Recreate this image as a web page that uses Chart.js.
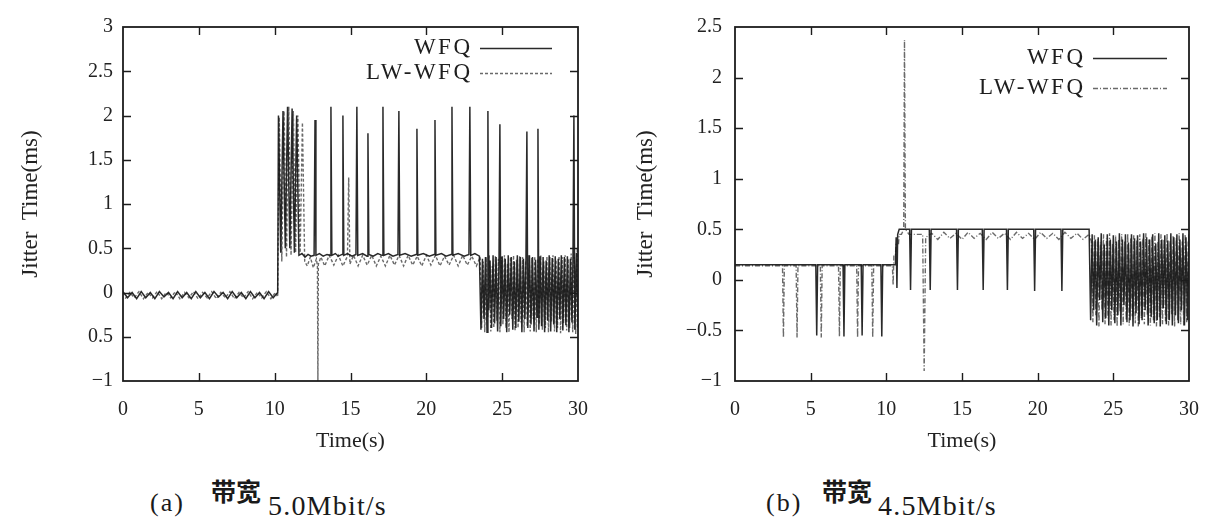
<!DOCTYPE html>
<html>
<head>
<meta charset="utf-8">
<script src="https://cdn.jsdelivr.net/npm/chart.js@4.4.1/dist/chart.umd.min.js"></script>
<style>
  html, body { margin: 0; padding: 0; background: #fff; }
  body { width: 1216px; height: 526px; position: relative; overflow: hidden; color: #222; font-family: 'Liberation Serif', serif; }
  .panel { position: absolute; top: 0; }
  .cap { position: absolute; white-space: nowrap; color: #1a1a1a; }
  .paren { font-family: 'Liberation Serif', serif; font-size: 26px; letter-spacing: 2px; }
  .cjk { font-family: 'Noto Sans CJK SC', sans-serif; font-weight: 700; font-size: 25px; }
  .rate { font-family: 'Liberation Serif', serif; font-size: 28px; letter-spacing: 1.2px; }
</style>
</head>
<body>
<canvas id="chartA" class="panel" width="608" height="470" style="left:0"></canvas>
<canvas id="chartB" class="panel" width="608" height="470" style="left:608px"></canvas>

<div class="cap paren" style="left:150px; top:488px;">(a)</div>
<div class="cap cjk"   style="left:211px; top:472px;">带宽</div>
<div class="cap rate"  style="left:268px; top:490px;">5.0Mbit/s</div>

<div class="cap paren" style="left:766px; top:488px;">(b)</div>
<div class="cap cjk"   style="left:822px; top:472px;">带宽</div>
<div class="cap rate"  style="left:878px; top:490px;">4.5Mbit/s</div>

<script>
// ---------- (a) bandwidth 5.0 Mbit/s ----------
const aWfqTime = [
  0.0,0.3,0.6,0.9,1.2,1.5,1.8,2.1,2.4,2.7,3.0,3.3,3.6,3.9,4.2,4.5,4.8,5.1,5.4,5.7,
  6.0,6.3,6.6,6.9,7.2,7.5,7.8,8.1,8.4,8.7,9.0,9.3,9.6,9.9,10.2,
  10.25,10.4,10.55,10.7,10.85,11.0,11.15,11.3,11.45,11.6,11.8,12.0,12.2,12.4,
  12.6,12.66,12.72,12.95,13.2,13.45,13.65,13.71,13.77,14.0,14.2,14.44,14.5,14.56,
  14.8,15.1,15.36,15.42,15.48,15.8,16.09,16.15,16.21,16.5,16.8,17.08,17.14,17.2,
  17.5,17.8,18.13,18.19,18.25,18.6,19.0,19.32,19.38,19.44,19.8,20.2,20.51,20.57,20.63,
  21.0,21.3,21.63,21.69,21.75,22.1,22.5,22.81,22.87,22.93,23.2,23.5,
  23.6,23.7,23.8,23.9,24.0,24.06,24.12,24.2,24.3,24.4,24.5,24.6,24.7,24.79,24.85,24.91,
  25.0,25.1,25.2,25.3,25.4,25.5,25.6,25.7,25.8,25.9,26.0,26.1,26.2,26.3,26.4,26.5,
  26.57,26.63,26.69,26.8,26.9,27.0,27.1,27.2,27.3,27.36,27.42,27.5,27.6,27.7,27.8,
  27.9,28.0,28.1,28.2,28.3,28.4,28.5,28.6,28.7,28.8,28.9,29.0,29.1,29.2,29.3,29.4,
  29.5,29.6,29.67,29.73,29.79,29.9,30.0
];
const aWfqJitter = [
  0.01,-0.06,0.0,-0.07,0.01,-0.06,0.0,-0.07,0.01,-0.05,0.0,-0.07,0.01,-0.06,0.0,-0.07,0.01,-0.06,0.0,-0.07,
  0.01,-0.05,0.0,-0.07,0.01,-0.06,0.0,-0.07,0.01,-0.06,0.0,-0.07,0.01,-0.06,0.0,
  2.0,0.45,2.05,0.5,2.1,0.5,2.08,0.45,2.0,0.42,0.44,0.4,0.43,0.41,
  0.42,1.95,0.42,0.44,0.41,0.43,0.42,2.1,0.42,0.44,0.41,0.43,2.0,0.42,
  0.44,0.41,0.43,2.1,0.42,0.44,0.41,1.8,0.43,0.41,0.44,0.42,2.1,0.42,
  0.44,0.41,0.43,2.05,0.42,0.44,0.41,0.43,1.85,0.42,0.44,0.41,0.43,1.95,0.42,
  0.44,0.41,0.43,2.1,0.42,0.44,0.41,0.43,2.1,0.42,0.44,0.41,
  -0.42,0.38,-0.3,0.4,-0.45,2.05,-0.2,0.36,-0.4,0.42,-0.35,0.4,-0.44,0.3,1.9,-0.38,
  0.41,-0.3,0.38,-0.45,0.42,-0.25,0.4,-0.42,0.35,-0.4,0.42,-0.33,0.4,-0.45,0.38,-0.3,
  0.4,1.82,-0.4,0.42,-0.36,0.4,-0.44,0.37,-0.28,1.85,-0.42,0.41,-0.38,0.4,-0.45,
  0.36,-0.32,0.42,-0.44,0.39,-0.36,0.41,-0.45,0.38,-0.3,0.42,-0.43,0.4,-0.37,0.41,-0.45,
  0.38,-0.34,0.4,2.0,-0.42,0.45,-0.4
];
const aLwTime = [
  0.15,0.45,0.75,1.05,1.35,1.65,1.95,2.25,2.55,2.85,3.15,3.45,3.75,4.05,4.35,4.65,4.95,5.25,5.55,5.85,
  6.15,6.45,6.75,7.05,7.35,7.65,7.95,8.25,8.55,8.85,9.15,9.45,9.75,10.05,10.2,
  10.3,10.47,10.62,10.78,10.93,11.08,11.23,11.38,11.53,11.68,11.83,11.98,12.15,12.35,12.55,12.75,
  12.82,12.85,12.88,13.05,
  13.3,13.6,13.9,14.2,14.5,14.8,14.88,14.96,15.2,15.5,15.8,16.1,16.4,16.7,17.0,17.3,17.6,17.9,
  18.2,18.5,18.8,19.1,19.4,19.7,20.0,20.3,20.6,20.9,21.2,21.5,21.8,22.1,22.4,22.7,23.0,23.3,23.55,
  23.65,23.75,23.85,23.95,24.05,24.15,24.25,24.35,24.45,24.55,24.65,24.75,24.85,24.95,
  25.05,25.15,25.25,25.35,25.45,25.55,25.65,25.75,25.85,25.95,26.05,26.15,26.25,26.35,26.45,
  26.55,26.65,26.75,26.85,26.95,27.05,27.15,27.25,27.35,27.45,27.55,27.65,27.75,27.85,27.95,
  28.05,28.15,28.25,28.35,28.45,28.55,28.65,28.75,28.85,28.95,29.05,29.15,29.25,29.35,29.45,
  29.55,29.65,29.75,29.85,29.95
];
const aLwJitter = [
  -0.07,0.0,-0.06,0.01,-0.07,0.0,-0.06,0.01,-0.07,0.0,-0.06,0.01,-0.07,0.0,-0.06,0.01,-0.07,0.0,-0.06,0.01,
  -0.07,0.0,-0.06,0.01,-0.07,0.0,-0.06,0.01,-0.07,0.0,-0.06,0.01,-0.07,0.0,-0.05,
  1.98,0.35,2.05,0.4,2.1,0.42,2.05,0.45,2.0,0.45,1.92,0.35,0.3,0.4,0.28,0.38,
  0.3,-1.0,0.32,0.4,
  0.3,0.42,0.31,0.42,0.3,0.41,1.3,0.32,0.42,0.3,0.42,0.31,0.42,0.3,0.41,0.3,0.42,0.31,
  0.42,0.3,0.42,0.31,0.41,0.3,0.42,0.31,0.42,0.3,0.41,0.31,0.42,0.3,0.42,0.31,0.41,0.3,0.4,
  -0.4,0.35,-0.45,0.4,-0.28,0.42,-0.44,0.3,-0.4,0.41,-0.32,0.38,-0.45,0.4,
  -0.36,0.42,-0.4,0.33,-0.45,0.4,-0.3,0.42,-0.43,0.37,-0.4,0.41,-0.34,0.4,-0.45,
  0.36,-0.38,0.42,-0.44,0.39,-0.3,0.41,-0.45,0.38,-0.36,0.42,-0.42,0.35,-0.4,0.41,
  -0.45,0.4,-0.33,0.42,-0.44,0.37,-0.4,0.41,-0.46,0.4,-0.35,0.42,-0.43,0.38,-0.4,
  0.44,-0.45,0.4,-0.47,0.5
];
const aYTicks = { '-1': '\u22121', '-0.5': '0.5' };

// ---------- (b) bandwidth 4.5 Mbit/s ----------
const bWfqTime = [
  0,1.0,2.0,3.0,4.0,5.0,5.34,5.4,5.46,6.5,7.14,7.2,7.26,8.34,8.4,8.46,9.64,9.7,9.76,
  10.6,10.65,10.7,10.75,10.85,11.54,11.6,11.66,12.84,12.9,12.96,14.64,14.7,14.76,
  16.34,16.4,16.46,17.94,18.0,18.06,19.74,19.8,19.86,21.54,21.6,21.66,23.4,
  23.5,23.6,23.7,23.8,23.9,24.0,24.1,24.2,24.3,24.4,24.5,24.6,24.7,24.8,24.9,
  25.0,25.1,25.2,25.3,25.4,25.5,25.6,25.7,25.8,25.9,26.0,26.1,26.2,26.3,26.4,26.5,
  26.6,26.7,26.8,26.9,27.0,27.1,27.2,27.3,27.4,27.5,27.6,27.7,27.8,27.9,28.0,
  28.1,28.2,28.3,28.4,28.5,28.6,28.7,28.8,28.9,29.0,29.1,29.2,29.3,29.4,29.5,
  29.6,29.7,29.8,29.9,30.0
];
const bWfqJitter = [
  0.15,0.15,0.15,0.15,0.15,0.15,0.15,-0.55,0.15,0.15,0.15,-0.56,0.15,0.15,-0.55,0.15,0.15,-0.56,0.15,
  0.15,0.42,-0.08,0.45,0.5,0.5,-0.1,0.5,0.5,-0.1,0.5,0.5,-0.1,0.5,
  0.5,-0.1,0.5,0.5,-0.1,0.5,0.5,-0.11,0.5,0.5,-0.11,0.5,0.5,
  -0.4,0.45,-0.3,0.4,-0.45,0.42,-0.2,0.46,-0.42,0.35,-0.38,0.45,-0.45,0.4,-0.3,
  0.44,-0.43,0.38,-0.35,0.46,-0.45,0.4,-0.25,0.45,-0.42,0.37,-0.4,0.45,-0.46,0.41,-0.33,
  0.44,-0.44,0.38,-0.4,0.46,-0.3,0.42,-0.45,0.4,-0.37,0.45,-0.43,0.36,-0.4,0.46,
  -0.46,0.4,-0.28,0.44,-0.44,0.39,-0.4,0.46,-0.45,0.42,-0.35,0.45,-0.43,0.4,-0.3,
  0.46,-0.45,0.42,-0.4,0.45
];
const bLwTime = [
  0,1.5,3.0,3.14,3.2,3.26,4.04,4.1,4.16,5.64,5.7,5.76,6.84,6.9,6.96,8.04,8.1,8.16,9.04,9.1,9.16,
  10.4,10.45,10.5,10.6,10.65,10.8,10.85,11.0,11.15,11.2,11.26,11.5,12.0,12.4,12.5,12.6,
  13.0,13.4,13.8,14.2,14.6,15.0,15.4,15.8,16.2,16.6,17.0,17.4,17.8,18.2,18.6,19.0,19.4,19.8,
  20.2,20.6,21.0,21.4,21.8,22.2,22.6,23.0,23.4,
  23.55,23.65,23.75,23.85,23.95,24.05,24.15,24.25,24.35,24.45,24.55,24.65,24.75,24.85,24.95,
  25.05,25.15,25.25,25.35,25.45,25.55,25.65,25.75,25.85,25.95,26.05,26.15,26.25,26.35,26.45,
  26.55,26.65,26.75,26.85,26.95,27.05,27.15,27.25,27.35,27.45,27.55,27.65,27.75,27.85,27.95,
  28.05,28.15,28.25,28.35,28.45,28.55,28.65,28.75,28.85,28.95,29.05,29.15,29.25,29.35,29.45,
  29.55,29.65,29.75,29.85,29.95
];
const bLwJitter = [
  0.14,0.14,0.14,0.14,-0.57,0.14,0.14,-0.57,0.14,0.14,-0.57,0.14,0.14,-0.56,0.14,0.14,-0.57,0.14,0.14,-0.57,0.14,
  0.14,-0.05,0.25,0.25,0.35,0.35,0.45,0.45,0.5,2.37,0.5,0.45,0.45,0.45,-0.9,0.42,
  0.46,0.4,0.47,0.41,0.46,0.4,0.47,0.41,0.46,0.4,0.47,0.41,0.46,0.4,0.47,0.41,0.46,0.4,
  0.47,0.41,0.46,0.4,0.47,0.41,0.46,0.4,0.45,
  0.38,-0.42,0.44,-0.35,0.4,-0.46,0.37,-0.3,0.45,-0.44,0.41,-0.38,0.46,-0.45,0.36,
  -0.4,0.44,-0.46,0.4,-0.32,0.45,-0.44,0.38,-0.4,0.46,-0.45,0.41,-0.36,0.44,-0.43,
  0.39,-0.46,0.45,-0.38,0.41,-0.44,0.46,-0.35,0.4,-0.45,0.43,-0.4,0.46,-0.46,0.38,
  -0.37,0.45,-0.44,0.4,-0.41,0.46,-0.45,0.39,-0.34,0.44,-0.46,0.41,-0.4,0.46,-0.44,
  0.38,-0.45,0.45,-0.42,0.4
];
const bYTicks = { '-1': '\u22121', '-0.5': '\u22120.5' };

const seriesNames = ['WFQ', 'LW-WFQ'];

// gnuplot-style frame: closed border, inward tick marks on all four sides, key at top right
const framePlugin = {
  id: 'gpFrame',
  afterDatasetsDraw(chart, args, opts) {
    const { ctx, chartArea: a, scales: { x, y } } = chart;
    ctx.save();
    ctx.strokeStyle = '#1c1c1c';
    ctx.lineWidth = 1.8;
    ctx.strokeRect(a.left, a.top, a.right - a.left, a.bottom - a.top);
    ctx.lineWidth = 1.4;
    ctx.beginPath();
    x.ticks.forEach(t => {
      if (t.value <= x.min || t.value >= x.max) return;
      const px = Math.round(x.getPixelForValue(t.value)) + 0.5;
      ctx.moveTo(px, a.bottom); ctx.lineTo(px, a.bottom - 8);
      ctx.moveTo(px, a.top); ctx.lineTo(px, a.top + 8);
    });
    y.ticks.forEach(t => {
      if (t.value <= y.min || t.value >= y.max) return;
      const py = Math.round(y.getPixelForValue(t.value)) + 0.5;
      ctx.moveTo(a.left, py); ctx.lineTo(a.left + 8, py);
      ctx.moveTo(a.right, py); ctx.lineTo(a.right - 8, py);
    });
    ctx.stroke();

    // key
    ctx.font = '23px "Liberation Serif", serif';
    ctx.fillStyle = '#1e1e1e';
    ctx.textAlign = 'right';
    ctx.textBaseline = 'middle';
    chart.data.datasets.forEach((ds, i) => {
      const ty = a.top + opts.rows[i];
      ctx.letterSpacing = '2.5px';
      ctx.fillText(ds.label, a.right - opts.textRight + 2.5, ty);
      ctx.letterSpacing = '0px';
      ctx.strokeStyle = ds.borderColor;
      ctx.lineWidth = ds.borderWidth;
      ctx.setLineDash(ds.borderDash || []);
      ctx.beginPath();
      ctx.moveTo(a.right - opts.sampleFrom, ty + 0.5);
      ctx.lineTo(a.right - opts.sampleTo, ty + 0.5);
      ctx.stroke();
      ctx.setLineDash([]);
    });
    ctx.restore();
  }
};

function points(ts, vs) { return ts.map((t, i) => ({ x: t, y: vs[i] })); }

function makeChart(id, cfg) {
  const font = { family: "'Liberation Serif', serif", size: 20 };
  const titleFont = { family: "'Liberation Serif', serif", size: 23 };
  return new Chart(document.getElementById(id), {
    type: 'line',
    data: {
      datasets: [
        { label: seriesNames[0], data: points(cfg.wfqT, cfg.wfqV),
          borderColor: 'rgba(24,24,24,0.92)', borderWidth: 1.5, pointRadius: 0, tension: 0 },
        { label: seriesNames[1], data: points(cfg.lwT, cfg.lwV),
          borderColor: 'rgba(80,80,80,0.85)', borderWidth: 1.4, borderDash: cfg.dash, pointRadius: 0, tension: 0 }
      ]
    },
    options: {
      responsive: false,
      animation: false,
      events: [],
      layout: { padding: { top: 27, right: cfg.padRight, left: 0, bottom: 0 } },
      plugins: {
        legend: { display: false },
        tooltip: { enabled: false },
        gpFrame: cfg.key
      },
      scales: {
        x: {
          type: 'linear', min: 0, max: 30,
          ticks: { stepSize: 5, padding: 17, color: '#222', font, maxRotation: 0 },
          grid: { display: false, drawTicks: false },
          border: { display: false },
          title: { display: true, text: 'Time(s)', color: '#222', font: { family: "'Liberation Serif', serif", size: 22 }, padding: { top: 0, bottom: 16 } },
          afterFit(s) { s.height = 89; }
        },
        y: {
          type: 'linear', min: cfg.yMin, max: cfg.yMax,
          ticks: { stepSize: 0.5, padding: cfg.yTickPad, color: '#222', font,
                   callback: v => cfg.yLabels[String(v)] ?? String(v) },
          grid: { display: false, drawTicks: false },
          border: { display: false },
          title: { display: true, text: 'Jitter  Time(ms)', color: '#222', font: titleFont, padding: { top: cfg.yTitlePad, bottom: 0 } },
          afterFit(s) { s.width = cfg.yWidth; }
        }
      }
    },
    plugins: [framePlugin]
  });
}

makeChart('chartA', {
  wfqT: aWfqTime, wfqV: aWfqJitter, lwT: aLwTime, lwV: aLwJitter,
  dash: [3, 2], yMin: -1, yMax: 3, yLabels: aYTicks,
  padRight: 30, yWidth: 123, yTickPad: 10, yTitlePad: 17,
  key: { textRight: 108, sampleFrom: 98, sampleTo: 26, rows: [21, 46] }
});

makeChart('chartB', {
  wfqT: bWfqTime, wfqV: bWfqJitter, lwT: bLwTime, lwV: bLwJitter,
  dash: [5, 2, 1, 2], yMin: -1, yMax: 2.5, yLabels: bYTicks,
  padRight: 27, yWidth: 127, yTickPad: 13, yTitlePad: 24,
  key: { textRight: 106, sampleFrom: 96, sampleTo: 22, rows: [31, 61] }
});
</script>
</body>
</html>
